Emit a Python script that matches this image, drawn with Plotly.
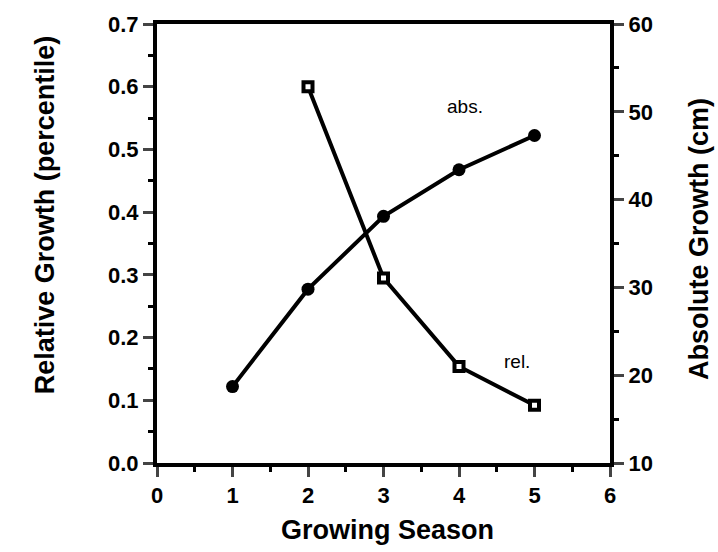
import plotly.graph_objects as go

seasons = [1, 2, 3, 4, 5]
rel_seasons = [2, 3, 4, 5]
rel_growth = [0.60, 0.295, 0.154, 0.092]
abs_growth = [18.7, 29.8, 38.1, 43.4, 47.3]

x_ticks = [0, 1, 2, 3, 4, 5, 6]
y1_ticks = [0.0, 0.1, 0.2, 0.3, 0.4, 0.5, 0.6, 0.7]
y2_ticks = [10, 20, 30, 40, 50, 60]

FONT = "Liberation Sans"
W, H = 718, 552
ML, MR, MT, MB = 157, 108, 20, 89
pw = W - ML - MR
ph = H - MT - MB

fig = go.Figure()
fig.add_trace(go.Scatter(
    x=seasons, y=abs_growth, mode="lines+markers", yaxis="y2",
    line=dict(color="black", width=4),
    marker=dict(symbol="circle", size=13, color="black"),
    showlegend=False))
fig.add_trace(go.Scatter(
    x=rel_seasons, y=rel_growth, mode="lines+markers", yaxis="y",
    line=dict(color="black", width=4),
    marker=dict(symbol="square", size=9, color="white",
                line=dict(color="black", width=4)),
    showlegend=False))

tickfont = dict(family=FONT, size=22, color="black", weight="bold")
fig.update_layout(
    width=W, height=H,
    margin=dict(l=ML, r=MR, t=MT, b=MB),
    paper_bgcolor="white", plot_bgcolor="white",
    xaxis=dict(range=[0, 6], tickvals=x_ticks, ticks="outside", ticklen=10,
               tickwidth=3, linewidth=4, linecolor="black", showline=True,
               mirror=True, showgrid=False, zeroline=False, tickfont=tickfont,
               minor=dict(dtick=0.5, ticks="outside", ticklen=5, tickwidth=3, tickcolor="black")),
    yaxis=dict(range=[0, 0.7], tickvals=y1_ticks, tickformat=".1f", ticks="outside", ticklen=10,
               tickwidth=3, linewidth=4, linecolor="black", showline=True,
               showgrid=False, zeroline=False, tickfont=tickfont,
               minor=dict(dtick=0.05, ticks="outside", ticklen=5, tickwidth=3, tickcolor="black")),
    yaxis2=dict(range=[10, 60], tickvals=y2_ticks, overlaying="y", side="right",
                ticks="outside", ticklen=10, tickwidth=3, linewidth=4, linecolor="black",
                showline=True, showgrid=False, zeroline=False, tickfont=tickfont,
                minor=dict(dtick=5, ticks="outside", ticklen=5, tickwidth=3, tickcolor="black")),
    annotations=[
        dict(text="abs.", x=4.08, y=50.6, xref="x", yref="y2", showarrow=False,
             font=dict(family=FONT, size=19, color="black")),
        dict(text="rel.", x=4.77, y=0.162, xref="x", yref="y", showarrow=False,
             font=dict(family=FONT, size=19, color="black")),
        dict(text="Relative Growth (percentile)", x=(45 - ML) / pw, y=(H - MB - 213) / ph,
             xref="paper", yref="paper", xanchor="center", yanchor="middle",
             showarrow=False, textangle=-90,
             font=dict(family=FONT, size=27, color="black", weight="bold")),
        dict(text="Absolute Growth (cm)", x=(699 - ML) / pw, y=(H - MB - 237) / ph,
             xref="paper", yref="paper", xanchor="center", yanchor="middle",
             showarrow=False, textangle=-90,
             font=dict(family=FONT, size=27, color="black", weight="bold")),
        dict(text="Growing Season", x=(387 - ML) / pw, y=(H - MB - 531) / ph,
             xref="paper", yref="paper", xanchor="center", yanchor="middle",
             showarrow=False,
             font=dict(family=FONT, size=27, color="black", weight="bold")),
    ],
)
fig.write_html("out.html")
